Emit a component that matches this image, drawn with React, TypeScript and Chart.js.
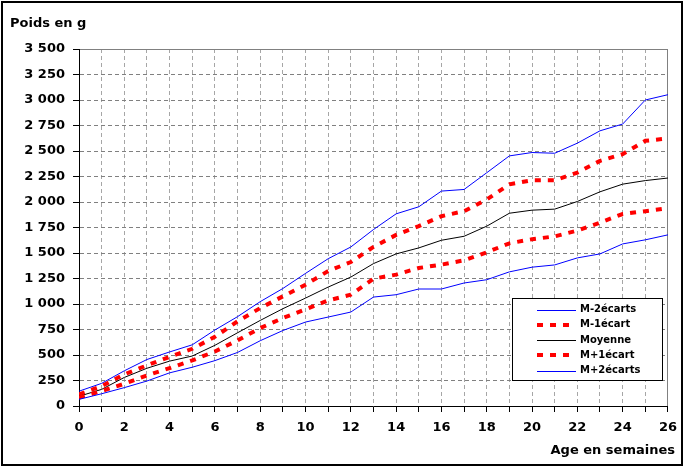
import React, { useEffect, useRef } from 'react';
import { Chart, registerables } from 'chart.js';

Chart.register(...registerables);

const weeks = [0, 1, 2, 3, 4, 5, 6, 7, 8, 9, 10, 11, 12, 13, 14, 15, 16, 17, 18, 19, 20, 21, 22, 23, 24, 25, 26];
const mMinus2 = [65, 120, 180, 245, 325, 380, 445, 525, 640, 740, 823, 872, 921, 1068, 1091, 1147, 1147, 1206, 1238, 1315, 1361, 1383, 1452, 1491, 1589, 1629, 1678];
const mMinus1 = [82, 147, 218, 300, 372, 447, 535, 643, 764, 862, 947, 1035, 1091, 1248, 1288, 1353, 1386, 1428, 1507, 1595, 1635, 1663, 1720, 1798, 1882, 1910, 1940];
const moyenne = [95, 163, 280, 370, 440, 490, 595, 718, 839, 954, 1058, 1166, 1264, 1396, 1491, 1550, 1625, 1664, 1763, 1890, 1920, 1930, 2005, 2100, 2175, 2210, 2235];
const mPlus1 = [114, 195, 310, 398, 482, 561, 678, 830, 960, 1075, 1189, 1323, 1411, 1560, 1677, 1763, 1861, 1910, 2025, 2173, 2213, 2213, 2288, 2403, 2469, 2600, 2623];
const mPlus2 = [145, 222, 345, 456, 530, 600, 745, 876, 1023, 1152, 1300, 1444, 1559, 1730, 1884, 1953, 2107, 2123, 2287, 2452, 2485, 2478, 2577, 2698, 2764, 3000, 3052];

const seriesNames = ['M-2écarts', 'M-1écart', 'Moyenne', 'M+1écart', 'M+2écarts'];
const yTitle = 'Poids en g';
const xTitle = 'Age en semaines';

const FONT = 'DejaVu Sans';
const tickFont = { family: FONT, size: 13, weight: 'bold' as const };

function fmt(v: number): string {
  if (v >= 1000) {
    const th = Math.floor(v / 1000);
    const rest = String(v % 1000).padStart(3, '0');
    return th + ' ' + rest;
  }
  return String(v);
}

const styles = [
  { color: '#0000ff', width: 1, dash: [] as number[] },
  { color: '#ff0000', width: 4, dash: [6, 7] },
  { color: '#000000', width: 1, dash: [] as number[] },
  { color: '#ff0000', width: 4, dash: [6, 7] },
  { color: '#0000ff', width: 1, dash: [] as number[] },
];

const decorPlugin = {
  id: 'decor',
  afterDraw(chart: any) {
    const ctx = chart.ctx as CanvasRenderingContext2D;
    ctx.save();
    ctx.fillStyle = '#000';
    ctx.font = `bold 13px "${FONT}"`;
    ctx.textAlign = 'left';
    ctx.textBaseline = 'alphabetic';
    ctx.fillText(yTitle, 10, 26.5);
    ctx.textAlign = 'right';
    ctx.fillText(xTitle, 675, 454);

    const lx = 512.5, ly = 298.5, lw = 150, lh = 82;
    ctx.fillStyle = '#fff';
    ctx.fillRect(lx, ly, lw, lh);
    ctx.strokeStyle = '#000';
    ctx.lineWidth = 1;
    ctx.setLineDash([]);
    ctx.strokeRect(lx, ly, lw, lh);
    ctx.font = `bold 10px "${FONT}"`;
    ctx.textAlign = 'left';
    ctx.textBaseline = 'middle';
    for (let i = 0; i < seriesNames.length; i++) {
      const yy = 309.5 + i * 15.25;
      const st = styles[i];
      ctx.strokeStyle = st.color;
      ctx.lineWidth = st.width;
      ctx.setLineDash(st.dash);
      ctx.beginPath();
      ctx.moveTo(537, Math.round(yy) + (st.width % 2 ? 0.5 : 0));
      ctx.lineTo(576, Math.round(yy) + (st.width % 2 ? 0.5 : 0));
      ctx.stroke();
      ctx.setLineDash([]);
      ctx.fillStyle = '#000';
      ctx.fillText(seriesNames[i], 580, yy);
    }

    ctx.strokeStyle = '#000';
    ctx.lineWidth = 2;
    ctx.strokeRect(2, 2, 680, 463);
    ctx.restore();
  },
};

export default function App() {
  const ref = useRef<HTMLCanvasElement | null>(null);

  useEffect(() => {
    if (!ref.current) return;
    const data = [mMinus2, mMinus1, moyenne, mPlus1, mPlus2];
    const chart = new Chart(ref.current, {
      type: 'line',
      data: {
        datasets: data.map((arr, i) => ({
          label: seriesNames[i],
          data: weeks.map((w, j) => ({ x: w, y: arr[j] })),
          borderColor: styles[i].color,
          borderWidth: styles[i].width,
          borderDash: styles[i].dash,
          pointRadius: 0,
          tension: 0,
          fill: false,
        })),
      },
      options: {
        animation: false,
        responsive: false,
        devicePixelRatio: 1,
        layout: { padding: { top: 49, left: 0, right: 16, bottom: 0 } },
        plugins: { legend: { display: false }, tooltip: { enabled: false } },
        scales: {
          x: {
            type: 'linear',
            min: 0,
            max: 26,
            afterFit: (s: any) => { s.height = 63; },
            ticks: {
              stepSize: 1,
              autoSkip: false,
              maxRotation: 0,
              padding: 8,
              color: '#000',
              font: tickFont,
              callback: (v: any) => (Number(v) % 2 === 0 ? String(v) : ''),
            },
            grid: {
              color: (c: any) => (c.tick && c.tick.value === 26 ? '#808080' : '#a6a6a6'),
              tickColor: '#000',
              tickLength: 6,
              tickBorderDash: [],
            },
            border: {
              display: true,
              color: '#000',
              width: 1,
              dash: (c: any) => (c.tick && c.tick.value === 26 ? [] : [4, 3]),
            },
          },
          y: {
            type: 'linear',
            min: 0,
            max: 3500,
            afterFit: (s: any) => { s.width = 79; },
            ticks: {
              stepSize: 250,
              padding: 8,
              color: '#000',
              font: tickFont,
              callback: (v: any) => fmt(Number(v)),
            },
            grid: {
              color: '#808080',
              tickColor: '#000',
              tickLength: 6,
              tickBorderDash: [],
            },
            border: {
              display: true,
              color: '#000',
              width: 1,
              dash: (c: any) => (c.tick && c.tick.value === 3500 ? [] : [4, 3]),
            },
          },
        },
      } as any,
      plugins: [decorPlugin],
    });
    return () => chart.destroy();
  }, []);

  return (
    <div style={{ position: 'fixed', left: 0, top: 0, width: 685, height: 469, background: '#fff' }}>
      <canvas ref={ref} width={685} height={469} style={{ display: 'block', width: 685, height: 469 }} />
    </div>
  );
}
